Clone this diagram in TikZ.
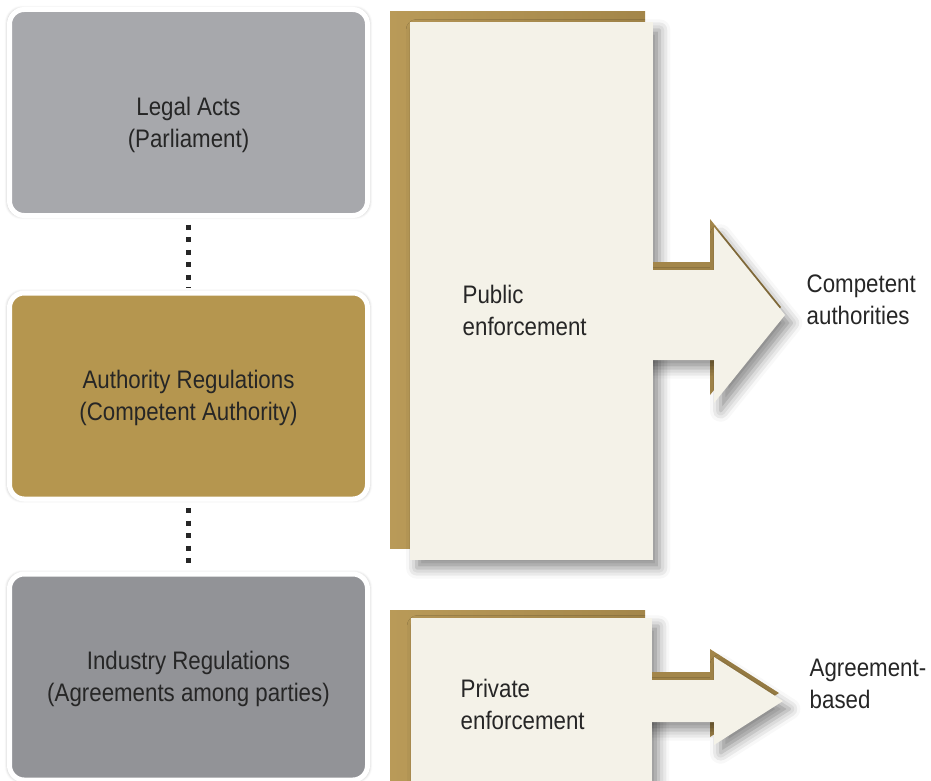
\documentclass[tikz,border=0pt]{standalone}
\usepackage{fontspec}
\setmainfont[FakeStretch=0.88]{Liberation Sans}
\usetikzlibrary{shadows.blur}

\definecolor{legalgray}{HTML}{A7A8AC}
\definecolor{authgold}{HTML}{B5964F}
\definecolor{industrygray}{HTML}{929397}
\definecolor{cream}{HTML}{F4F2E8}
\definecolor{goldlight}{HTML}{B99A58}
\definecolor{golddark}{HTML}{A3864A}
\definecolor{inktext}{HTML}{262626}

\tikzset{
  regbox/.style={rounded corners=11pt, minimum width=268.5pt, minimum height=154.5pt,
    draw=white, line width=3.75pt,
    blur shadow={shadow xshift=0pt, shadow yshift=0pt, shadow scale=1.012,
      shadow opacity=25, shadow blur radius=2pt}},
  boxtext/.style={text=inktext, align=center, font=\fontsize{19}{24}\selectfont},
  dotlink/.style={line width=3.75pt, draw=inktext, dash pattern=on 3.75pt off 5.6pt,
    shorten <=5pt, shorten >=2.5pt},
  note/.style={text=inktext, align=left, anchor=west, font=\fontsize{19}{24}\selectfont},
  panelshadow/.style={blur shadow={shadow xshift=5pt, shadow yshift=-6pt,
      shadow blur radius=8pt, shadow opacity=45}},
}

\begin{document}
\begin{tikzpicture}[x=0.75pt,y=-0.75pt]
  \useasboundingbox (0,0) rectangle (931,781);

  % regulation levels
  \node[regbox, fill=legalgray, label={[boxtext, yshift=-9pt]center:Legal Acts\\(Parliament)}]
    (legal) at (188.5,112.5) {};
  \node[regbox, fill=authgold, label={[boxtext, yshift=-1.5pt]center:Authority Regulations\\(Competent Authority)}]
    (authority) at (188.5,396) {};
  \node[regbox, fill=industrygray, label={[boxtext, yshift=-1.5pt]center:Industry Regulations\\(Agreements among parties)}]
    (industry) at (188.5,677) {};
  \draw[dotlink] (legal) -- (authority);
  \draw[dotlink] (authority) -- (industry);

  % public enforcement
  \fill[left color=goldlight, right color=golddark] (390,12) rectangle (645,548);
  \fill[cream, panelshadow] (410,22) rectangle (653,560);
  \fill[golddark] (653,262) -- (710,262) -- (710,219) -- (781,307)
    -- (710,395) -- (710,352) -- (653,352) -- cycle;
  \fill[cream, panelshadow] (620,270) -- (714,270) -- (714,227) -- (785,315)
    -- (714,403) -- (714,360) -- (620,360) -- cycle;
  \fill[cream] (410,22) rectangle (653,560);
  \node[note] (pubtext) at (458,310) {Public\\enforcement};
  \node[note] (comptext) at (802,300) {Competent\\authorities};

  % private enforcement
  \fill[left color=goldlight, right color=golddark] (390,610) rectangle (645,781);
  \fill[cream, panelshadow] (411,618) rectangle (652,781);
  \fill[golddark] (652,672) -- (710,672) -- (710,649) -- (779,693)
    -- (710,737) -- (710,714) -- (652,714) -- cycle;
  \fill[cream, panelshadow] (620,680) -- (714,680) -- (714,657) -- (783,701)
    -- (714,745) -- (714,722) -- (620,722) -- cycle;
  \fill[cream] (411,618) rectangle (652,781);
  \node[note] (privtext) at (456,704) {Private\\enforcement};
  \node[note] (agreetext) at (805,684) {Agreement-\\based};
\end{tikzpicture}
\end{document}
